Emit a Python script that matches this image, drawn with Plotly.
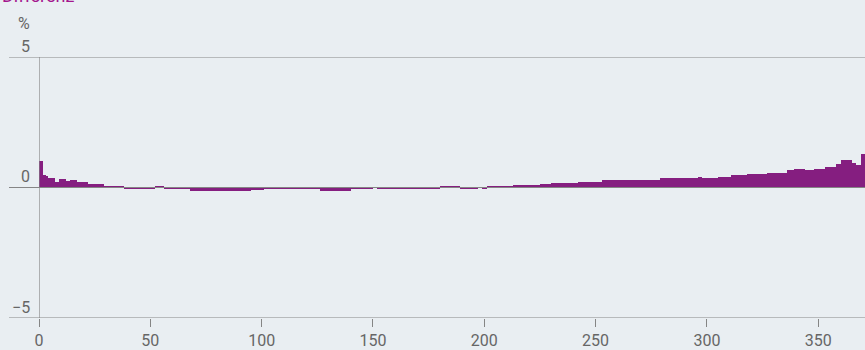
import numpy as np
import plotly.graph_objects as go

# Bar values, stored as runs of equal daily values
run_lengths = [2, 1, 1, 3, 2, 3, 2, 3, 5, 7, 9, 6, 4, 4, 4, 4, 8, 12, 15, 6,
               9, 6, 6, 4, 14, 10, 2, 8, 5, 10, 5, 9, 8, 2, 2, 12, 12, 5, 12, 5,
               6, 19, 7, 17, 2, 7, 6, 7, 6, 3, 9, 3, 5, 4, 5, 5, 2, 5, 2, 2, 2]
run_values = [1.0, 0.47, 0.45, 0.36, 0.2, 0.32, 0.25, 0.28, 0.2, 0.13, 0.03, -0.03, -0.05, -0.02, 0.05, -0.02, -0.07, -0.12, -0.14, -0.08,
              -0.05, -0.03, -0.06, -0.04, -0.14, -0.05, -0.01, -0.04, -0.06, -0.03, -0.02, 0.02, -0.05, 0.01, -0.05, 0.02, 0.1, 0.14, 0.18, 0.23,
              0.22, 0.27, 0.3, 0.36, 0.4, 0.37, 0.41, 0.46, 0.5, 0.53, 0.56, 0.67, 0.72, 0.67, 0.72, 0.8, 0.9, 1.06, 0.92, 0.88, 1.28]

values = np.repeat(run_values, run_lengths)
days = np.arange(len(values)) + 0.5

x_ticks = [0, 50, 100, 150, 200, 250, 300, 350]
y_ticks = [5, 0, -5]
y_tick_labels = ["5", "0", "\u22125"]

BG = "#e9eef2"
BAR = "#851e80"
GRID = "#858585"
TXT = "#666666"
FONT = "Roboto, Liberation Sans, Arial, sans-serif"

fig = go.Figure()
fig.add_trace(go.Bar(x=days, y=values, width=1.0, marker=dict(color=BAR, line=dict(width=0)),
                     showlegend=False, hoverinfo="skip"))

W, H = 865, 350
ml, mr, mt, mb = 39, 0, 57, 30
pw = W - ml - mr
ph = H - mt - mb

shapes = []
for yv in y_ticks:
    shapes.append(dict(type="line", xref="paper", yref="y", x0=-30 / pw, x1=1, y0=yv, y1=yv,
                       line=dict(color=GRID, width=1.2), layer="above"))
shapes.append(dict(type="line", xref="x", yref="paper", x0=0, x1=0, y0=0, y1=1,
                   line=dict(color=GRID, width=1.2), layer="above"))

annotations = []
for yv, lab in zip(y_ticks, y_tick_labels):
    annotations.append(dict(x=-7 / pw, xref="paper", y=yv, yref="y", yshift=11,
                            text=lab, showarrow=False, xanchor="right", yanchor="middle",
                            font=dict(size=16, color=TXT, family=FONT)))
annotations.append(dict(x=-7 / pw, xref="paper", y=1 + 34 / ph, yref="paper",
                        text="%", showarrow=False, xanchor="right", yanchor="middle",
                        font=dict(size=16, color=TXT, family=FONT)))
annotations.append(dict(x=-39 / pw, xref="paper", y=1 + 62 / ph, yref="paper",
                        text="Differenz", showarrow=False, xanchor="left", yanchor="middle",
                        font=dict(size=18, color="#a4168e", family=FONT)))

fig.update_layout(
    width=W, height=H,
    margin=dict(l=ml, r=mr, t=mt, b=mb),
    paper_bgcolor=BG, plot_bgcolor=BG,
    bargap=0,
    shapes=shapes, annotations=annotations,
    xaxis=dict(range=[0, 371], tickvals=x_ticks, ticks="outside", ticklen=8, tickcolor=GRID,
               tickwidth=1.2, showgrid=False, zeroline=False, showline=False,
               tickfont=dict(size=16, color=TXT, family=FONT)),
    yaxis=dict(range=[-5, 5], showticklabels=False, showgrid=False, zeroline=False,
               showline=False, ticks=""),
)

fig.write_html("out.html", config={"displayModeBar": False},
               post_script="document.body.style.margin='0';document.body.style.background='" + BG + "';")
